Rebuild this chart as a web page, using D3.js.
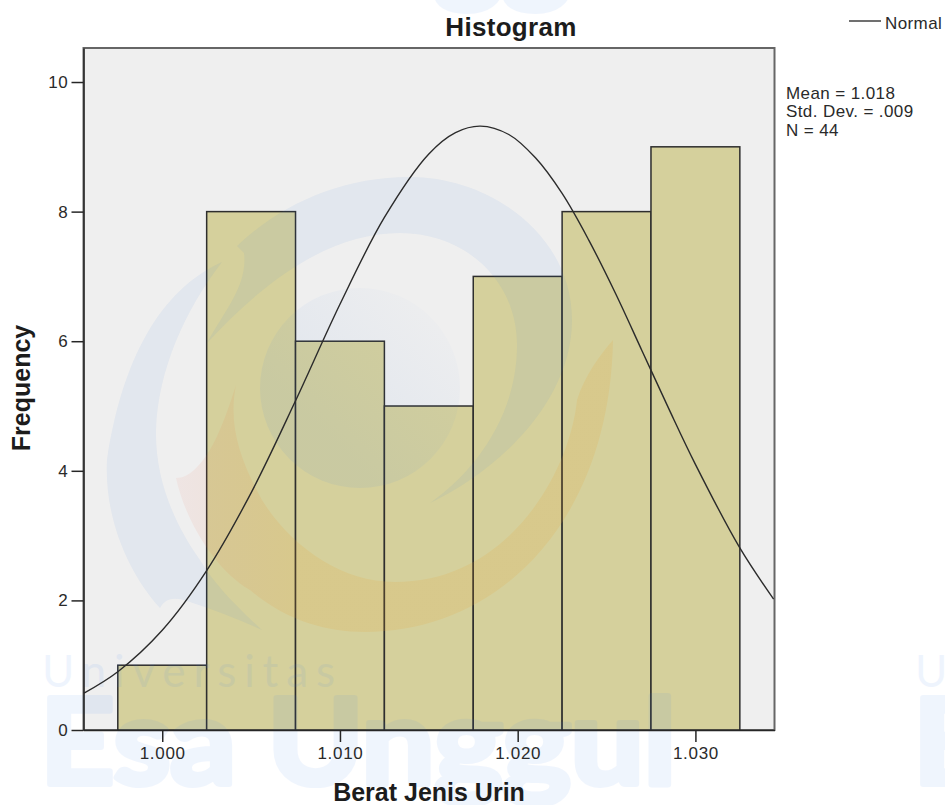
<!DOCTYPE html>
<html>
<head>
<meta charset="utf-8">
<style>
html, body { margin: 0; padding: 0; background: #fff; }
svg { display: block; }
text { font-family: "Liberation Sans", Arial, sans-serif; fill: #1c1c1c; }
.axis path, .axis line { stroke: #262626; stroke-width: 1.5px; }
.axis text { font-size: 17px; fill: #2a2a2a; font-family: "Liberation Sans", Arial, sans-serif; letter-spacing: .7px; }
.title { font-size: 26px; font-weight: bold; letter-spacing: .3px; }
.axis-label { font-size: 25px; font-weight: bold; }
.bar { fill: #d5d09c; stroke: #2e2e2e; stroke-width: 1.5px; }
.normal { fill: none; stroke: #2b2b2b; stroke-width: 1.4px; }
.frame { fill: #efefef; stroke: #666; stroke-width: 2px; }
.stats, .legend { font-size: 17px; fill: #2a2a2a; letter-spacing: .4px; }
.wm-text { fill: #3b82f0; stroke: #3b82f0; font-family: Lato, sans-serif; }
</style>
</head>
<body>
<script src="https://d3js.org/d3.v7.min.js"></script>
<script>

// histogram bins, bin width .005
var binCenters = [1.000, 1.005, 1.010, 1.015, 1.020, 1.025, 1.030];
var binCounts = [1, 8, 6, 5, 7, 8, 9];
var binWidth = 0.005;

// normal curve
var curveX = [0.9956, 0.9975, 1.0000, 1.0025, 1.0050, 1.0075, 1.0100, 1.0125, 1.0150, 1.0165, 1.0179,
              1.0195, 1.0210, 1.0225, 1.0240, 1.0255, 1.0270, 1.0285, 1.0300, 1.0325, 1.0344];
var curveY = [0.57, 0.90, 1.54, 2.46, 3.66, 5.08, 6.57, 7.91, 8.89, 9.22, 9.32,
              9.19, 8.83, 8.28, 7.56, 6.74, 5.85, 4.96, 4.10, 2.81, 2.02];

var xTicks = [1.000, 1.010, 1.020, 1.030];
var yTicks = [0, 2, 4, 6, 8, 10];
var statLines = ["Mean = 1.018", "Std. Dev. = .009", "N = 44"];

var width = 945, height = 805;
var plot = {left: 83.5, right: 774.5, top: 48, bottom: 730};

var x = d3.scaleLinear().domain([0.99557, 1.03445]).range([plot.left, plot.right]);
var y = d3.scaleLinear().domain([0, 10.525]).range([plot.bottom, plot.top]);

var svg = d3.select("body").append("svg")
    .attr("width", width)
    .attr("height", height);

var defs = svg.append("defs");

// inner disc of the logo fades out to the upper right
var discGrad = defs.append("linearGradient").attr("id", "disc")
    .attr("x1", 0).attr("y1", 1).attr("x2", 1).attr("y2", 0);
discGrad.append("stop").attr("offset", "30%").attr("stop-color", "#3f7fe0").attr("stop-opacity", .08);
discGrad.append("stop").attr("offset", "90%").attr("stop-color", "#3f7fe0").attr("stop-opacity", .01);

// orange swoosh goes pink at its left end
var swooshGrad = defs.append("linearGradient").attr("id", "swoosh")
    .attr("gradientUnits", "userSpaceOnUse")
    .attr("x1", 176).attr("y1", 0).attr("x2", 300).attr("y2", 0);
swooshGrad.append("stop").attr("offset", "0%").attr("stop-color", "#e8604a").attr("stop-opacity", .07);
swooshGrad.append("stop").attr("offset", "100%").attr("stop-color", "#e8a030").attr("stop-opacity", .15);

svg.append("rect")
    .attr("class", "frame")
    .attr("x", plot.left)
    .attr("y", plot.top)
    .attr("width", plot.right - plot.left)
    .attr("height", plot.bottom - plot.top);

svg.selectAll(".bar")
    .data(binCounts)
  .enter().append("rect")
    .attr("class", "bar")
    .attr("x", function(d, i) { return x(binCenters[i] - binWidth / 2); })
    .attr("width", function(d, i) { return x(binCenters[i] + binWidth / 2) - x(binCenters[i] - binWidth / 2); })
    .attr("y", function(d) { return y(d); })
    .attr("height", function(d) { return y(0) - y(d); });

// watermark of the source document, sits over the bars
var wm = svg.append("g").attr("class", "watermark");

wm.append("circle").attr("cx", 360).attr("cy", 388).attr("r", 100).attr("fill", "url(#disc)");
wm.append("path")
    .attr("fill", "#3f7fe0").attr("fill-opacity", .07)
    .attr("d", "M222,262 C160,290 122,360 107,460 C104,520 130,575 160,608 C165,598 175,596 190,602 " +
               "C215,610 240,620 262,630 C235,605 215,585 200,560 C175,525 155,480 156,430 C158,370 185,310 222,262 Z");
wm.append("path")
    .attr("fill", "#3f7fe0").attr("fill-opacity", .07)
    .attr("d", "M207,343 C225,310 248,285 244,253 L237,246 C280,205 340,177 410,177 C490,177 572,235 572,320 " +
               "C572,400 500,470 430,503 C470,475 517,420 517,345 C517,280 465,233 400,233 C330,233 265,280 207,343 Z");
wm.append("path")
    .attr("fill", "url(#swoosh)")
    .attr("d", "M236,385 C228,410 215,450 197,467 C190,475 182,478 176,478 C185,520 215,570 250,590 " +
               "C285,620 325,632 365,632 C500,632 610,520 613,340 C600,355 585,375 577,400 " +
               "C570,470 510,582 395,582 C340,582 290,545 262,500 C240,460 228,425 236,385 Z");

[[40, 784], [913, 784], [40, -10], [913, -10]].forEach(function(p) {
  wm.append("text").attr("class", "wm-text")
      .attr("x", p[0]).attr("y", p[1])
      .attr("textLength", 636).attr("lengthAdjust", "spacingAndGlyphs")
      .attr("stroke-width", 6).attr("stroke-linejoin", "round")
      .attr("opacity", .075)
      .style("font-size", "118px").style("font-weight", "bold")
      .text("Esa Unggul");
});
[42, 915].forEach(function(px) {
  wm.append("text").attr("class", "wm-text")
      .attr("x", px).attr("y", 687)
      .attr("textLength", 293)
      .attr("stroke-width", 0)
      .attr("opacity", .08)
      .style("font-size", "44px").style("font-weight", 400)
      .text("Universitas");
});

// normal curve
var line = d3.line()
    .curve(d3.curveCatmullRom)
    .x(function(d, i) { return x(curveX[i]); })
    .y(function(d) { return y(d); });

svg.append("path")
    .datum(curveY)
    .attr("class", "normal")
    .attr("d", line);

// axes
svg.append("g")
    .attr("class", "axis")
    .attr("transform", "translate(" + plot.left + ",0)")
    .call(d3.axisLeft(y).tickValues(yTicks).tickFormat(d3.format("d")).tickSize(12).tickSizeOuter(0).tickPadding(3));

svg.append("g")
    .attr("class", "axis")
    .attr("transform", "translate(0," + plot.bottom + ")")
    .call(d3.axisBottom(x).tickValues(xTicks).tickFormat(d3.format(".3f")).tickSize(12).tickSizeOuter(0).tickPadding(5));

// titles
svg.append("text")
    .attr("class", "title")
    .attr("x", 511)
    .attr("y", 36)
    .attr("text-anchor", "middle")
    .text("Histogram");

svg.append("text")
    .attr("class", "axis-label")
    .attr("x", 429)
    .attr("y", 801)
    .attr("text-anchor", "middle")
    .text("Berat Jenis Urin");

svg.append("text")
    .attr("class", "axis-label")
    .attr("transform", "translate(30,388) rotate(-90)")
    .attr("text-anchor", "middle")
    .text("Frequency");

// stats box
svg.selectAll(".stats")
    .data(statLines)
  .enter().append("text")
    .attr("class", "stats")
    .attr("x", 786)
    .attr("y", function(d, i) { return 99 + i * 18.3; })
    .text(function(d) { return d; });

// legend
svg.append("line")
    .attr("x1", 849).attr("x2", 881)
    .attr("y1", 21).attr("y2", 21)
    .attr("stroke", "#333")
    .attr("stroke-width", 1.4);

svg.append("text")
    .attr("class", "legend")
    .attr("x", 885)
    .attr("y", 29)
    .text("Normal");

</script>
</body>
</html>
